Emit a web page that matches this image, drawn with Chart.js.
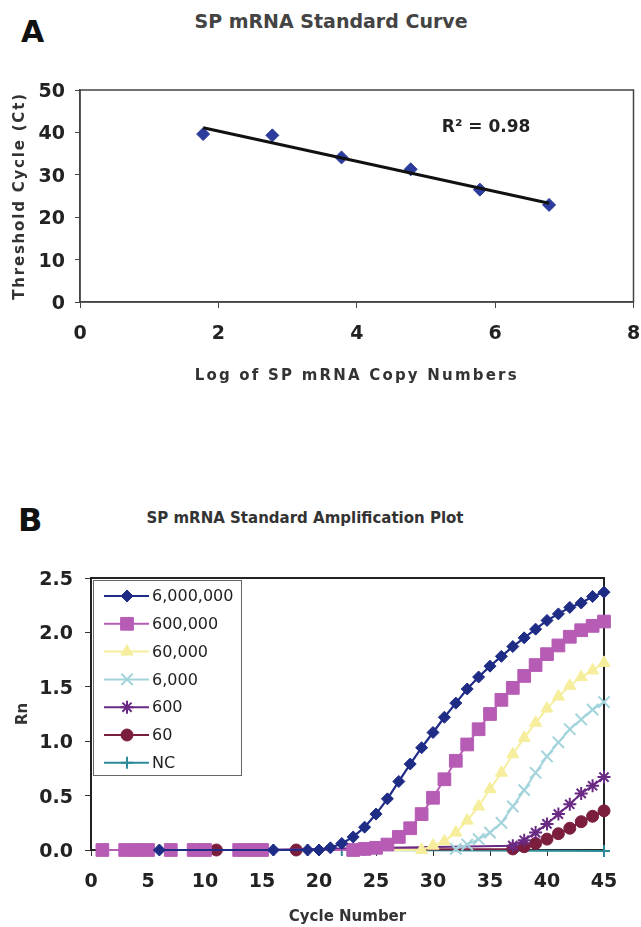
<!DOCTYPE html>
<html><head><meta charset="utf-8">
<script src="https://cdn.jsdelivr.net/npm/chart.js@4.4.1/dist/chart.umd.min.js"></script>
<style>
html,body{margin:0;padding:0;background:#fff;width:641px;height:927px;overflow:hidden;position:relative;}
.t{position:absolute;white-space:nowrap;font-family:"DejaVu Sans",sans-serif;font-weight:bold;line-height:1;}
#wa{position:absolute;left:0;top:0;width:641px;height:400px;}
#wb{position:absolute;left:0;top:500px;width:641px;height:427px;}
</style></head><body>
<div class="t" style="left:21px;top:17px;font-size:30px;color:#111;">A</div>
<div class="t" style="left:331px;top:12px;transform:translateX(-50%);font-size:19px;color:#444;">SP mRNA Standard Curve</div>
<div class="t" style="left:18px;top:504px;font-size:32px;color:#111;">B</div>
<div class="t" style="left:305px;top:511px;transform:translateX(-50%);font-size:15px;color:#333;">SP mRNA Standard Amplification Plot</div>
<div id="wa"><canvas id="ca"></canvas></div>
<div id="wb"><canvas id="cb"></canvas></div>
<script>
// ---------- Panel A data ----------
const logCopies = [1.78, 2.78, 3.78, 4.78, 5.78, 6.78];
const thresholdCt = [39.6, 39.3, 34.1, 31.3, 26.5, 22.9];
const fitX = [1.78, 6.78];
const fitCt = [41.1, 23.3];
const r2Text = 'R\u00B2 = 0.98';
const xTicksA = [0, 2, 4, 6, 8];
const yTicksA = [0, 10, 20, 30, 40, 50];

// ---------- Panel B data ----------
const cycles = [1,2,3,4,5,6,7,8,9,10,11,12,13,14,15,16,17,18,19,20,21,22,23,24,25,26,27,28,29,30,31,32,33,34,35,36,37,38,39,40,41,42,43,44,45];
const seriesLabels = ['6,000,000', '600,000', '60,000', '6,000', '600', '60', 'NC'];
const rn6000000 = [null,null,null,null,null, 0.00, null,null,null,null,null,null,null,null,null, 0.00, null,null,
  0.00,0.00,0.02,0.06,0.12,0.21,0.33,0.47,0.63,0.79,0.94,1.08,1.22,1.35,1.48,1.59,1.69,1.78,1.87,1.95,2.03,2.11,2.17,2.23,2.27,2.33,2.37];
const rn600000 = [0.00,null,0.00,0.00,0.00,null,0.00,null,0.00,0.00,null,null,0.00,0.00,0.00,
  null,null,null,null,null,null,null,
  0.00,0.01,0.02,0.05,0.12,0.20,0.33,0.48,0.65,0.82,0.97,1.11,1.25,1.38,1.49,1.60,1.70,1.80,1.88,1.96,2.02,2.06,2.10];
const rn60000 = [0.00,null,0.00,
  null,null,null,null,null,null,null,null,null,null,null,null,null,null,null,null,null,null,null,null,null,null,null,null,null,
  0.00,0.04,0.08,0.16,0.27,0.40,0.56,0.71,0.88,1.03,1.17,1.30,1.41,1.51,1.59,1.65,1.72];
const rn6000 = [null,null,null,null,null,null,null,null,null,null,null,null,null,null,null,null,null,null,null,null,null,null,null,null,null,null,null,null,null,null,null,
  0.01,0.05,0.10,0.16,0.25,0.40,0.55,0.71,0.86,0.99,1.11,1.20,1.29,1.36];
const rn600 = [null,null,null,0.00,null,null,0.00,null,0.00,0.00,null,null,0.00,0.00,
  null,null,null,null,null,null,null,null,null,null,null,null,null,null,null,null,null,null,null,null,null,null,
  0.04,0.09,0.16,0.24,0.33,0.42,0.52,0.59,0.67];
const rn60 = [null,null,null,0.00,0.00,null,null,null,null,0.00,0.00,null,null,0.00,0.00,null,null,0.00,
  null,null,null,null,null,null,null,null,null,null,null,null,null,null,null,null,null,null,
  0.01,0.03,0.06,0.10,0.15,0.20,0.26,0.31,0.36];
const rnNC = [null,null,0.00,0.00,0.00,null,0.00,null,0.00,0.00,null,null,0.00,0.00,0.00,0.00,null,0.00,0.00,null,null,0.00,null,0.00,
  null,null,null,null,null,null,null,null,null,null,null,null,null,null,null,null,null,null,null,null,
  -0.01];
const xTicksB = [0, 5, 10, 15, 20, 25, 30, 35, 40, 45];
const yTicksB = [0, 0.5, 1.0, 1.5, 2.0, 2.5];

// ---------- helpers ----------
function spacedTitle(scale, px) {
  if (scale._spacedWrapped) return;
  const orig = scale.drawTitle;
  scale.drawTitle = function () {
    const ctx = this.ctx;
    ctx.save();
    try { ctx.letterSpacing = px + 'px'; } catch (e) {}
    orig.call(this);
    ctx.restore();
  };
  scale._spacedWrapped = true;
}
const framePlugin = {
  id: 'frame',
  beforeDatasetsDraw(chart, args, opts) {
    const {ctx, chartArea: a} = chart;
    ctx.save();
    ctx.strokeStyle = opts.color || '#222';
    ctx.lineWidth = opts.width || 1.5;
    ctx.strokeRect(a.left, a.top, a.right - a.left, a.bottom - a.top);
    ctx.restore();
  }
};
const r2Plugin = {
  id: 'r2label',
  afterDatasetsDraw(chart, args, opts) {
    if (!opts.text) return;
    const ctx = chart.ctx;
    const x = chart.scales.x.getPixelForValue(opts.x);
    const y = chart.scales.y.getPixelForValue(opts.y);
    ctx.save();
    ctx.font = 'bold 17px "DejaVu Sans"';
    ctx.fillStyle = '#222';
    ctx.textAlign = 'left';
    ctx.textBaseline = 'middle';
    ctx.fillText(opts.text, x, y);
    ctx.restore();
  }
};
const boxLegend = {
  id: 'boxLegend',
  afterDatasetsDraw(chart, args, opts) {
    if (!opts.display) return;
    const ctx = chart.ctx, a = chart.chartArea;
    const bx = a.left + 2, by = a.top + 2, bw = 148, bh = 195;
    ctx.save();
    ctx.fillStyle = '#fff';
    ctx.fillRect(bx, by, bw, bh);
    ctx.strokeStyle = '#666';
    ctx.lineWidth = 1;
    ctx.strokeRect(bx + 0.5, by + 0.5, bw, bh);
    chart.data.datasets.forEach((ds, i) => {
      const cy = by + 16 + i * 27.8;
      ctx.strokeStyle = ds.borderColor;
      ctx.lineWidth = ds.borderWidth;
      ctx.beginPath();
      ctx.moveTo(bx + 11, cy);
      ctx.lineTo(bx + 56, cy);
      ctx.stroke();
      ctx.fillStyle = ds.pointBackgroundColor;
      ctx.strokeStyle = ds.pointBorderColor;
      ctx.lineWidth = ds.pointBorderWidth;
      Chart.helpers.drawPoint(ctx, {pointStyle: ds.pointStyle, radius: ds.pointRadius, borderWidth: ds.pointBorderWidth, rotation: 0}, bx + 34, cy);
      ctx.fillStyle = '#222';
      ctx.font = '16px "DejaVu Sans"';
      ctx.textAlign = 'left';
      ctx.textBaseline = 'middle';
      ctx.fillText(ds.label, bx + 59, cy + 1);
    });
    ctx.restore();
  }
};

const tickFont = (s) => ({family: 'DejaVu Sans', weight: 'bold', size: s});

// ---------- Panel A chart ----------
new Chart(document.getElementById('ca'), {
  type: 'scatter',
  data: {
    datasets: [
      {
        type: 'line',
        label: 'fit',
        data: fitX.map((x, i) => ({x: x, y: fitCt[i]})),
        borderColor: '#111',
        borderWidth: 3,
        pointRadius: 0,
        fill: false,
        clip: false
      },
      {
        label: 'Ct',
        data: logCopies.map((x, i) => ({x: x, y: thresholdCt[i]})),
        pointStyle: 'rectRot',
        pointRadius: 6.5,
        pointBackgroundColor: '#2C3C9C',
        pointBorderColor: '#2C3C9C',
        pointBorderWidth: 1,
        clip: false
      }
    ]
  },
  options: {
    responsive: true,
    maintainAspectRatio: false,
    animation: false,
    devicePixelRatio: 1,
    layout: {padding: {top: 90, right: 5, bottom: 0, left: 0}},
    plugins: {
      legend: {display: false},
      tooltip: {enabled: false},
      frame: {color: '#444', width: 1.5},
      r2label: {text: r2Text, x: 5.23, y: 41.1}
    },
    scales: {
      x: {
        type: 'linear', min: 0, max: 8,
        afterBuildTicks: (s) => { s.ticks = xTicksA.map(v => ({value: v})); },
        afterFit: (s) => { s.height = 98; s.paddingLeft = 0; s.paddingRight = 0; spacedTitle(s, 2.2); },
        grid: {display: true, drawOnChartArea: false, drawTicks: true, tickLength: 6, color: '#444'},
        border: {display: true, color: '#444', width: 1.5},
        ticks: {font: tickFont(19), color: '#222', padding: 15, maxRotation: 0, autoSkip: false},
        title: {display: true, text: 'Log of SP mRNA Copy Numbers', color: '#333', font: tickFont(15), padding: {top: 0, bottom: 15}}
      },
      y: {
        type: 'linear', min: 0, max: 50,
        afterBuildTicks: (s) => { s.ticks = yTicksA.map(v => ({value: v})); },
        afterFit: (s) => { s.width = 80; spacedTitle(s, 1.8); },
        grid: {display: true, drawOnChartArea: false, drawTicks: true, tickLength: 5, color: '#444'},
        border: {display: true, color: '#444', width: 1.5},
        ticks: {font: tickFont(19), color: '#222', padding: 10, labelOffset: 2},
        title: {display: true, text: 'Threshold Cycle (Ct)', color: '#333', font: tickFont(15), padding: {top: 11, bottom: 0}}
      }
    }
  },
  plugins: [framePlugin, r2Plugin]
});

// ---------- Panel B chart ----------
const rnSeries = [rn6000000, rn600000, rn60000, rn6000, rn600, rn60, rnNC];
const looks = [
  {c: '#1F2C86', p: 'rectRot', r: 6, bw: 1, lw: 2.2},
  {c: '#B65CB5', p: 'rect', r: 9, bw: 1, lw: 2},
  {c: '#F6EE9C', p: 'triangle', r: 7, bw: 1, lw: 2},
  {c: '#A3D4DC', p: 'crossRot', r: 8, bw: 2, lw: 2},
  {c: '#6A2A84', p: 'star', r: 6.5, bw: 2, lw: 2},
  {c: '#7B1E3E', p: 'circle', r: 6, bw: 1, lw: 2},
  {c: '#2D8A98', p: 'cross', r: 6, bw: 2, lw: 2}
];
new Chart(document.getElementById('cb'), {
  type: 'line',
  data: {
    datasets: rnSeries.map((vals, i) => ({
      label: seriesLabels[i],
      data: cycles.map((c, j) => ({x: c, y: vals[j]})),
      borderColor: looks[i].c,
      backgroundColor: looks[i].c,
      borderWidth: looks[i].lw,
      pointStyle: looks[i].p,
      pointRadius: looks[i].r,
      pointBackgroundColor: looks[i].c,
      pointBorderColor: looks[i].c,
      pointBorderWidth: looks[i].bw,
      spanGaps: true,
      fill: false,
      tension: 0,
      clip: false
    }))
  },
  options: {
    responsive: true,
    maintainAspectRatio: false,
    animation: false,
    devicePixelRatio: 1,
    layout: {padding: {top: 78, right: 37, bottom: 0, left: 0}},
    plugins: {
      legend: {display: false},
      tooltip: {enabled: false},
      frame: {color: '#222', width: 2},
      boxLegend: {display: true}
    },
    scales: {
      x: {
        type: 'linear', min: 0, max: 45,
        afterBuildTicks: (s) => { s.ticks = xTicksB.map(v => ({value: v})); },
        afterFit: (s) => { s.height = 77; s.paddingLeft = 0; s.paddingRight = 0; },
        grid: {display: true, drawOnChartArea: false, drawTicks: true, tickLength: 6, color: '#333'},
        border: {display: true, color: '#222', width: 2},
        ticks: {font: tickFont(19), color: '#222', padding: 15, maxRotation: 0, autoSkip: false},
        title: {display: true, text: 'Cycle Number', color: '#333', font: tickFont(15), padding: {top: 0, bottom: 1}}
      },
      y: {
        type: 'linear', min: 0, max: 2.5,
        afterBuildTicks: (s) => { s.ticks = yTicksB.map(v => ({value: v})); },
        afterFit: (s) => { s.width = 91; },
        grid: {display: true, drawOnChartArea: false, drawTicks: true, tickLength: 6, color: '#333'},
        border: {display: true, color: '#222', width: 2},
        ticks: {font: tickFont(19), color: '#222', padding: 12, labelOffset: 2, callback: (v) => Number(v).toFixed(1)},
        title: {display: true, text: 'Rn', color: '#333', font: tickFont(15), padding: {top: 14, bottom: 0}}
      }
    }
  },
  plugins: [framePlugin, boxLegend]
});
</script>
</body></html>
